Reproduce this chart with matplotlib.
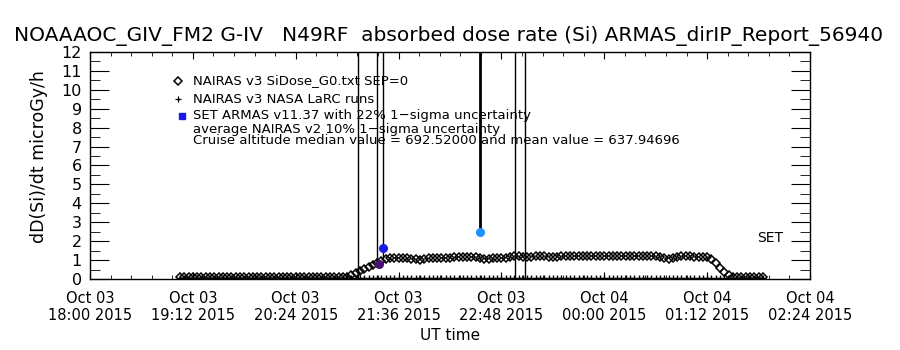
import numpy as np
import pandas as pd
import matplotlib
matplotlib.use('Agg')
import matplotlib.pyplot as plt
from matplotlib.ticker import FixedLocator

# NAIRAS v3 SiDose_G0 dose rate (microGy/h), one value every 3 minutes from 19:03 UT
sidose_start = '2015-10-03 19:03'
sidose_vals = [
    # 19:03 - 19:57
    0.08, 0.08, 0.08, 0.08, 0.08, 0.08, 0.08, 0.08, 0.08, 0.08,
    0.08, 0.08, 0.08, 0.08, 0.08, 0.08, 0.08, 0.08, 0.08,
    # 20:00 - 20:57
    0.08, 0.08, 0.08, 0.08, 0.08, 0.08, 0.08, 0.08, 0.08, 0.08,
    0.08, 0.08, 0.08, 0.08, 0.08, 0.08, 0.08, 0.08, 0.08, 0.09,
    # 21:00 - 21:57
    0.12, 0.22, 0.33, 0.43, 0.55, 0.65, 0.75, 0.84, 0.93, 1.05,
    1.12, 1.12, 1.13, 1.12, 1.11, 1.06, 1.03, 1.02, 1.05, 1.09,
    # 22:00 - 22:57
    1.10, 1.11, 1.11, 1.12, 1.13, 1.14, 1.17, 1.18, 1.16, 1.17,
    1.15, 1.10, 1.08, 1.08, 1.09, 1.10, 1.12, 1.10, 1.14, 1.20,
    # 23:00 - 23:57
    1.19, 1.16, 1.15, 1.18, 1.20, 1.21, 1.20, 1.16, 1.14, 1.15,
    1.19, 1.21, 1.22, 1.21, 1.22, 1.20, 1.21, 1.22, 1.21, 1.20,
    # 00:00 - 00:57
    1.19, 1.20, 1.21, 1.20, 1.20, 1.19, 1.20, 1.21, 1.20, 1.19,
    1.19, 1.20, 1.20, 1.18, 1.12, 1.08, 1.10, 1.17, 1.20, 1.20,
    # 01:00 - 01:51
    1.19, 1.18, 1.17, 1.16, 1.15, 1.08, 0.85, 0.60, 0.38, 0.20,
    0.12, 0.10, 0.09, 0.08, 0.08, 0.08, 0.08, 0.08,
]
# NAIRAS v3 NASA LaRC runs sit on the floor over the same span
larc_level = 0.03

# SET ARMAS v11.37 points with their error bars (nan = off scale)
set_times = ['2015-10-03 21:07:36', '2015-10-03 21:20:54', '2015-10-03 21:22:00',
             '2015-10-03 21:25:10', '2015-10-03 22:33:00', '2015-10-03 22:57:30',
             '2015-10-03 23:04:30']
set_vals = [np.nan, np.nan, 0.78, 1.65, 2.5, np.nan, np.nan]
set_lo = [-1.0, 0.78, 0.78, 1.15, 2.5, -1.0, -1.0]
set_hi = [14.0, 14.0, 0.78, 14.0, 14.0, 14.0, 14.0]
set_colors = ['black', 'black', '#4a1078', '#1a1ae6', '#1e90ff', 'black', 'black']
set_lw = [1, 1, 1, 1, 2, 1, 1]

x_start = '2015-10-03 18:00'
x_end = '2015-10-04 02:24'

plt.rcParams['font.family'] = ['DejaVu Sans']

fig = plt.figure(figsize=(9, 3.5), dpi=100)
ax = fig.add_axes([0.1, 0.2029, 0.8, 0.6486])

sidose_t = pd.date_range(sidose_start, periods=len(sidose_vals), freq='3min')
ax.plot(sidose_t, [larc_level] * len(sidose_t), '+', color='black', ms=5, mew=1)
ax.plot(sidose_t, sidose_vals, 'D', mfc='none', mec='black', ms=3.8, mew=1.1)

st = pd.to_datetime(set_times)
for t, v, lo, hi, c, lw in zip(st, set_vals, set_lo, set_hi, set_colors, set_lw):
    ax.plot([t, t], [lo, hi], color='black', lw=lw)
    if not np.isnan(v):
        ax.plot([t], [v], 'o', color=c, ms=5.5, mec=c)

ax.set_xlim(pd.Timestamp(x_start), pd.Timestamp(x_end))
ax.set_ylim(0, 12)

major = pd.date_range(x_start, x_end, freq='72min')
minor = pd.date_range(x_start, x_end, freq='864s')
ax.set_xticks(major)
ax.set_xticklabels([d.strftime('%b %d\n%H:%M %Y') for d in major], fontsize=10.5, linespacing=1.1)
ax.xaxis.set_minor_locator(FixedLocator(matplotlib.dates.date2num(minor)))
ax.set_yticks(range(0, 13))
ax.set_yticklabels([str(i) for i in range(0, 13)], fontsize=11.5)
ax.yaxis.set_minor_locator(FixedLocator(np.arange(0.5, 12, 1.0)))

ax.tick_params(axis='x', which='major', direction='in', length=5, top=True, pad=9)
ax.tick_params(axis='x', which='minor', direction='in', length=3, top=True)
ax.tick_params(axis='y', which='major', direction='in', length=14, right=True, pad=6)
ax.tick_params(axis='y', which='minor', direction='in', length=7, right=True)
for s in ax.spines.values():
    s.set_linewidth(1)

ax.set_xlabel('UT time', fontsize=11, labelpad=4)
ax.set_ylabel('dD(Si)/dt microGy/h', fontsize=12.5)
ax.yaxis.set_label_coords(-0.058, 0.54)

fig.text(0.498, 1 - 36 / 350, 'NOAAAOC_GIV_FM2 G-IV   N49RF  absorbed dose rate (Si) ARMAS_dirIP_Report_56940',
         ha='center', va='center', fontsize=14.5)

# legend block
def fx(px):
    return px / 900
def fy(py):
    return 1 - py / 350

fig.lines.append(plt.Line2D([fx(178)], [fy(81)], marker='D', mfc='none', mec='black', ms=3.8, mew=1.1,
                            transform=fig.transFigure))
fig.lines.append(plt.Line2D([fx(178)], [fy(99)], marker='+', color='black', ms=5, mew=0.9,
                            transform=fig.transFigure))
fig.lines.append(plt.Line2D([fx(182)], [fy(116)], marker='s', color='#1a1ae6', ms=4,
                            transform=fig.transFigure))
lx = fx(193)
fig.text(lx, fy(81), 'NAIRAS v3 SiDose_G0.txt SEP=0', va='center', fontsize=9.5)
fig.text(lx, fy(99), 'NAIRAS v3 NASA LaRC runs', va='center', fontsize=9.5)
fig.text(lx, fy(116), 'SET ARMAS v11.37 with 22% 1\u2212sigma uncertainty', va='center', fontsize=9.5)
fig.text(lx, fy(129), 'average NAIRAS v2 10% 1\u2212sigma uncertainty', va='center', fontsize=9.5)
fig.text(lx, fy(140), 'Cruise altitude median value = 692.52000 and mean value = 637.94696',
         va='center', fontsize=9.5)
fig.text(fx(770), fy(238), 'SET', ha='center', va='center', fontsize=10)

fig.savefig('out.png', dpi=100)
